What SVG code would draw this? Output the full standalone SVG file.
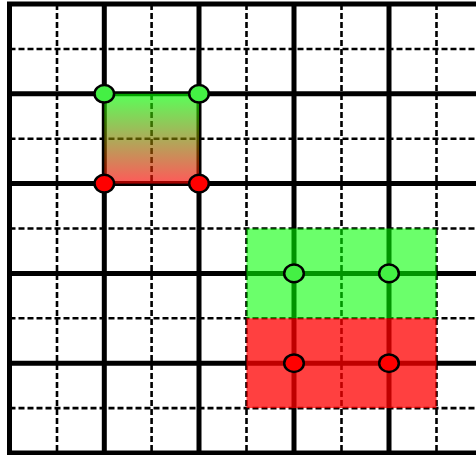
<svg xmlns="http://www.w3.org/2000/svg" width="476" height="455" viewBox="0 0 476 455">
  <defs>
    <linearGradient id="gr" x1="0" y1="0" x2="0" y2="1">
      <stop offset="0" stop-color="#00ff00"/>
      <stop offset="1" stop-color="#ff0000"/>
    </linearGradient>
  </defs>
  <style>
    .thick { stroke: #000; stroke-width: 5; fill: none; }
    .dash { stroke: #000; stroke-width: 2.6; stroke-dasharray: 6 3; fill: none; }
    .gpt { fill: #44f044; stroke: #000; stroke-width: 2.5; }
    .rpt { fill: #ff0000; stroke: #000; stroke-width: 2.5; }
  </style>
  <rect width="476" height="455" fill="#fff"/>
  <g id="grid">
    <g class="dash">
      <path d="M57 4V453M151.6 4V453M246.5 4V453M341.5 4V453M436.5 4V453"/>
      <path d="M9.5 49H484M9.5 138.7H484M9.5 228.5H484M9.5 318.3H484M9.5 408.1H484"/>
    </g>
    <g class="thick">
      <path d="M9.5 4V455M104.3 4V455M199 4V455M294 4V455M389 4V455"/>
      <path d="M7 4H480M7 93.8H480M7 183.6H480M7 273.4H480M7 363.2H480M7 453H480"/>
    </g>
  </g>
  <g id="gradient-cell">
    <rect x="104.3" y="93.8" width="94.7" height="89.8" fill="url(#gr)" fill-opacity="0.65"/>
    <ellipse class="gpt" cx="104.3" cy="93.8" rx="9.8" ry="8.8"/>
    <ellipse class="gpt" cx="199" cy="93.8" rx="9.8" ry="8.8"/>
    <ellipse class="rpt" cx="104.3" cy="183.6" rx="9.8" ry="8.8"/>
    <ellipse class="rpt" cx="199" cy="183.6" rx="9.8" ry="8.8"/>
  </g>
  <g id="green-block">
    <rect x="246.5" y="228.5" width="190" height="89.8" fill="#00ff00" fill-opacity="0.58"/>
    <ellipse class="gpt" cx="294" cy="273.4" rx="9.8" ry="8.8"/>
    <ellipse class="gpt" cx="389" cy="273.4" rx="9.8" ry="8.8"/>
  </g>
  <g id="red-block">
    <rect x="246.5" y="318.3" width="190" height="89.8" fill="#ff0000" fill-opacity="0.75"/>
    <ellipse class="rpt" cx="294" cy="363.2" rx="9.8" ry="8.8"/>
    <ellipse class="rpt" cx="389" cy="363.2" rx="9.8" ry="8.8"/>
  </g>
  <g id="connectors"/>
</svg>
